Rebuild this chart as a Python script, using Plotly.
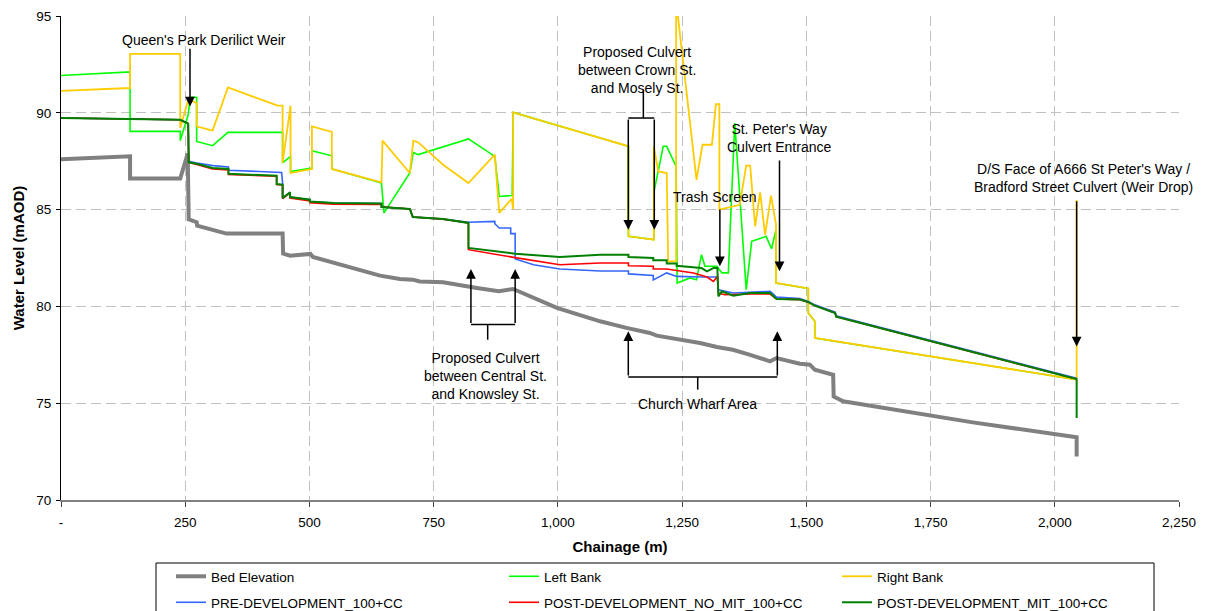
import plotly.graph_objects as go

# ---------------- data ----------------
bed_x = [0, 139, 139, 240, 255, 257, 273, 274, 333, 446, 447, 461, 502, 507, 642, 682, 708, 722, 769, 816,
         837, 881, 910, 998, 1085, 1138, 1185, 1199, 1246, 1286, 1320, 1352, 1387, 1427, 1440, 1487, 1507, 1517,
         1554, 1555, 1574, 1742, 1835, 2044, 2044]
bed_y = [87.6, 87.75, 86.6, 86.6, 87.9, 84.5, 84.35, 84.17, 83.76, 83.76, 82.73, 82.62, 82.71, 82.55, 81.59,
         81.42, 81.38, 81.29, 81.25, 81.03, 80.95, 80.78, 80.9, 79.92, 79.23, 78.89, 78.63, 78.49, 78.28, 78.11,
         77.9, 77.76, 77.5, 77.16, 77.33, 77.04, 76.99, 76.73, 76.47, 75.35, 75.1, 74.41, 74.01, 73.24, 72.25]

lb_x = [0, 139, 139, 240, 240, 256, 260, 273, 273, 305, 336, 446, 446, 462, 462, 505, 505, 545, 545, 645,
        650, 702, 709, 719, 820, 873, 882, 908, 910, 1142, 1142, 1193, 1193, 1212, 1219, 1238, 1240, 1266, 1279,
        1289, 1296, 1320, 1330, 1343, 1356, 1379, 1390, 1419, 1430, 1439, 1439, 1504, 1504, 1517, 1517, 2044]
lb_y = [91.93, 92.11, 89.04, 89.04, 88.57, 89.90, 90.80, 90.80, 88.52, 88.30, 88.99, 88.99, 87.41, 87.75,
        86.97, 87.15, 88.04, 87.78, 87.10, 86.37, 84.83, 86.89, 87.95, 87.84, 88.65, 87.75, 85.68, 85.73, 90.02,
        88.27, 83.62, 83.45, 85.86, 88.27, 88.27, 87.23, 81.21, 81.47, 81.38, 82.67, 82.07, 82.07, 81.73, 81.73,
        89.47, 80.86, 83.36, 83.62, 82.98, 83.96, 81.21, 80.93, 79.66, 79.23, 78.37, 76.22]

rb_x = [0, 139, 139, 240, 240, 256, 273, 273, 305, 336, 436, 446, 446, 462, 462, 505, 505, 545, 545, 645,
        647, 702, 709, 719, 769, 820, 873, 882, 907, 910, 910, 1142, 1142, 1193, 1193, 1202, 1219, 1222, 1238,
        1238, 1279, 1291, 1310, 1318, 1325, 1325, 1366, 1379, 1387, 1397, 1407, 1417, 1429, 1439, 1439, 1504,
        1504, 1517, 1517, 2044, 2044]
rb_y = [91.13, 91.28, 93.04, 93.04, 89.22, 90.68, 90.51, 89.30, 89.08, 91.31, 90.37, 90.37, 87.41, 90.37,
        86.89, 87.10, 89.30, 89.01, 87.10, 86.41, 88.56, 86.89, 88.56, 88.47, 87.32, 86.37, 87.84, 84.83, 85.55,
        85.03, 90.02, 88.27, 83.62, 83.45, 88.27, 86.97, 86.89, 82.33, 82.33, 95.8, 86.54, 88.35, 88.35, 90.45,
        90.45, 85.00, 85.25, 87.27, 87.27, 84.13, 85.89, 83.70, 85.72, 84.22, 81.21, 80.93, 79.66, 79.23, 78.37,
        76.22, 85.5]

pre_x = [0, 240, 256, 257, 273, 306, 337, 337, 444, 446, 446, 461, 461, 501, 501, 548, 645, 645, 702, 708,
         769, 820, 873, 873, 882, 905, 905, 914, 914, 951, 1004, 1085, 1142, 1142, 1192, 1192, 1219, 1239, 1289,
         1321, 1323, 1353, 1427, 1440, 1487, 1504, 1517, 1558, 1560, 1588, 2044]
pre_y = [89.73, 89.64, 89.44, 87.49, 87.41, 87.27, 87.20, 87.03, 86.92, 86.37, 85.60, 85.89, 85.65, 85.51,
         85.42, 85.34, 85.31, 85.13, 85.03, 84.62, 84.51, 84.35, 84.39, 84.27, 84.05, 84.05, 83.76, 83.76, 82.45,
         82.15, 81.93, 81.83, 81.83, 81.68, 81.60, 81.37, 81.73, 81.55, 81.52, 81.52, 80.86, 80.69, 80.78, 80.48,
         80.40, 80.26, 80.08, 79.70, 79.51, 79.32, 76.29]

nm_x = [0, 240, 256, 257, 273, 305, 337, 337, 434, 434, 446, 446, 461, 461, 501, 501, 548, 645, 645, 702,
        708, 769, 820, 820, 914, 1004, 1085, 1142, 1142, 1192, 1192, 1219, 1273, 1300, 1313, 1321, 1323, 1336,
        1387, 1427, 1440, 1487, 1504, 1517, 1558, 1560, 1588, 2044]
nm_y = [89.73, 89.64, 89.44, 87.44, 87.33, 87.10, 87.05, 86.82, 86.72, 86.30, 86.27, 85.57, 85.86, 85.60,
        85.45, 85.36, 85.28, 85.26, 85.15, 85.03, 84.62, 84.51, 84.31, 82.93, 82.52, 82.15, 82.24, 82.24, 82.10,
        82.07, 81.93, 81.93, 81.73, 81.52, 81.29, 81.55, 80.69, 80.60, 80.64, 80.64, 80.38, 80.35, 80.22, 80.04,
        79.66, 79.47, 79.28, 76.25]

mit_x = [0, 240, 256, 257, 273, 305, 337, 337, 434, 434, 446, 446, 461, 461, 501, 501, 548, 645, 645, 702,
         708, 769, 820, 820, 914, 1004, 1085, 1142, 1142, 1192, 1192, 1219, 1219, 1239, 1239, 1273, 1289, 1300,
         1313, 1321, 1323, 1330, 1353, 1387, 1427, 1440, 1487, 1504, 1517, 1558, 1560, 1588, 2044, 2044]
mit_y = [89.73, 89.64, 89.44, 87.44, 87.37, 87.15, 87.10, 86.85, 86.75, 86.32, 86.29, 85.60, 85.89, 85.65,
         85.51, 85.42, 85.34, 85.31, 85.13, 85.03, 84.62, 84.51, 84.31, 83.02, 82.72, 82.55, 82.67, 82.67, 82.55,
         82.50, 82.38, 82.38, 82.21, 82.21, 82.10, 82.04, 81.98, 81.81, 81.98, 81.98, 80.52, 80.78, 80.55, 80.69,
         80.69, 80.38, 80.35, 80.22, 80.04, 79.66, 79.47, 79.28, 76.25, 74.24]

x_ticks = [0, 250, 500, 750, 1000, 1250, 1500, 1750, 2000, 2250]
x_tick_text = ["-", "250", "500", "750", "1,000", "1,250", "1,500", "1,750", "2,000", "2,250"]
y_ticks = [70, 75, 80, 85, 90, 95]

# annotation labels: (text, x, y)
labels = [
    ("Queen's Park Derilict Weir", 288, 93.78),
    ("Proposed Culvert<br>between Crown St.<br>and Mosely St.", 1160, 92.19),
    ("St. Peter's Way<br>Culvert Entrance", 1445, 88.68),
    ("Trash Screen", 1316, 85.63),
    ("D/S Face of A666 St Peter's Way /<br>Bradford Street Culvert (Weir Drop)", 2057, 86.61),
    ("Proposed Culvert<br>between Central St.<br>and Knowsley St.", 855, 76.39),
    ("Church Wharf Area", 1281, 74.96),
]
# arrows: (x, tail y, head y)
arrows = [
    (259.6, 93.38, 90.33),
    (1141.7, 89.73, 83.96), (1194, 89.73, 83.96),
    (1326, 85.08, 82.07),
    (1446, 87.61, 81.81),
    (2044, 85.51, 77.93),
    (825, 79.06, 81.93), (914, 79.06, 81.93),
    (1141.7, 76.35, 78.71), (1441.6, 76.35, 78.71),
]
# bracket segments: (x0, y0, x1, y1)
brackets = [
    (1141.7, 89.73, 1194, 89.73), (1172, 91.19, 1172, 89.73),
    (825, 79.06, 914, 79.06), (858.7, 79.06, 858.7, 78.28),
    (1141.7, 76.35, 1441.6, 76.35), (1281.4, 76.35, 1281.4, 75.70),
]

FONT = "Liberation Sans, Arial, sans-serif"
W, H = 1208, 611
ML, MR, MT, MB = 61, 29, 16, 111

fig = go.Figure()
fig.add_trace(go.Scatter(x=bed_x, y=bed_y, mode="lines", name="Bed Elevation", legend="legend",
                         line=dict(color="#808080", width=4)))
fig.add_trace(go.Scatter(x=lb_x, y=lb_y, mode="lines", name="Left Bank", legend="legend",
                         line=dict(color="#00FF00", width=1.6)))
fig.add_trace(go.Scatter(x=rb_x, y=rb_y, mode="lines", name="Right Bank", legend="legend",
                         line=dict(color="#FFCC00", width=1.8)))
fig.add_trace(go.Scatter(x=pre_x, y=pre_y, mode="lines", name="PRE-DEVELOPMENT_100+CC", legend="legend2",
                         line=dict(color="#3366FF", width=1.6)))
fig.add_trace(go.Scatter(x=nm_x, y=nm_y, mode="lines", name="POST-DEVELOPMENT_NO_MIT_100+CC", legend="legend2",
                         line=dict(color="#FF0000", width=1.6)))
fig.add_trace(go.Scatter(x=mit_x, y=mit_y, mode="lines", name="POST-DEVELOPMENT_MIT_100+CC", legend="legend2",
                         line=dict(color="#008000", width=2)))

annotations = []
for t, x, y in labels:
    annotations.append(dict(text=t, x=x, y=y, xref="x", yref="y", showarrow=False,
                            xanchor="center", yanchor="middle",
                            font=dict(family=FONT, size=14, color="black")))
for x, y0, y1 in arrows:
    annotations.append(dict(text="", x=x, y=y1, ax=x, ay=y0, xref="x", yref="y", axref="x", ayref="y",
                            showarrow=True, arrowhead=2, arrowsize=1.3, arrowwidth=1.5,
                            arrowcolor="black", standoff=0, startstandoff=0))

shapes = []
for x0, y0, x1, y1 in brackets:
    shapes.append(dict(type="line", x0=x0, y0=y0, x1=x1, y1=y1, xref="x", yref="y",
                       line=dict(color="black", width=1.5)))

# legend frame (pixel positions -> paper coords)
pw, ph = W - ML - MR, H - MT - MB
def px2paper_x(p):
    return (p - ML) / pw
def px2paper_y(p):
    return (H - MB - p) / ph
shapes.append(dict(type="rect", xref="paper", yref="paper",
                   x0=px2paper_x(156), x1=px2paper_x(1154), y0=px2paper_y(563), y1=px2paper_y(660),
                   line=dict(color="black", width=1), fillcolor="rgba(0,0,0,0)", layer="above"))

leg_common = dict(orientation="h", xref="container", yref="container", xanchor="left", yanchor="top",
                  borderwidth=0, bgcolor="rgba(0,0,0,0)", entrywidth=288, entrywidthmode="pixels",
                  font=dict(family=FONT, size=13.5, color="black"))

fig.update_layout(
    width=W, height=H,
    margin=dict(l=ML, r=MR, t=MT, b=MB, autoexpand=False),
    paper_bgcolor="white", plot_bgcolor="white",
    font=dict(family=FONT, size=13.5, color="black"),
    showlegend=True,
    legend=dict(x=171 / W, y=(H - 561) / H, **leg_common),
    legend2=dict(x=171 / W, y=(H - 587) / H, **leg_common),
    annotations=annotations,
    shapes=shapes,
)
fig.update_xaxes(range=[0, 2250], tickvals=x_ticks, ticktext=x_tick_text, automargin=False,
                 showgrid=True, gridcolor="#C0C0C0", griddash="10px,5px", gridwidth=1,
                 showline=True, linecolor="#808080", linewidth=2,
                 ticks="outside", ticklen=5, tickcolor="#404040", ticklabelstandoff=4,
                 zeroline=False,
                 title=dict(text="Chainage (m)", font=dict(family=FONT, size=15, weight="bold"), standoff=12),
                 tickfont=dict(family=FONT, size=13.5, color="black"))
fig.update_yaxes(range=[70, 95], tickvals=y_ticks, automargin=False,
                 showgrid=True, gridcolor="#C0C0C0", griddash="10px,5px", gridwidth=1,
                 showline=True, linecolor="black", linewidth=1,
                 ticks="outside", ticklen=4, tickcolor="black", ticklabelstandoff=2,
                 zeroline=False,
                 title=dict(text="Water Level (mAOD)", font=dict(family=FONT, size=15, weight="bold"), standoff=8),
                 tickfont=dict(family=FONT, size=13.5, color="black"))

fig.write_html("out.html", config={"displayModeBar": False},
               post_script="document.body.style.margin='0';document.body.style.overflow='hidden';")
